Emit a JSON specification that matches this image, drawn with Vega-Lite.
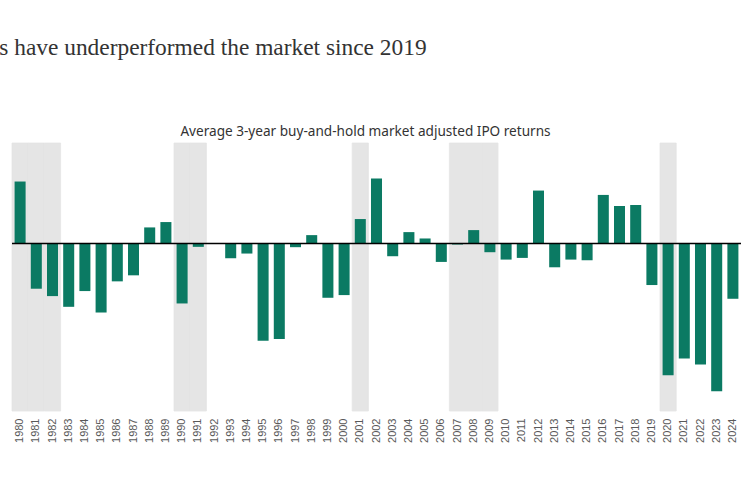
{
  "$schema": "https://vega.github.io/schema/vega-lite/v6.json",
  "width": 729,
  "height": 268,
  "autosize": {"type": "none"},
  "padding": {"left": 12, "top": 143, "right": 9, "bottom": 89},
  "background": "white",
  "title": {
    "text": "s have underperformed the market since 2019",
    "anchor": "start",
    "frame": "bounds",
    "dx": -12,
    "offset": 46,
    "baseline": "alphabetic",
    "font": "Liberation Serif",
    "fontSize": 23.4,
    "fontWeight": "normal",
    "color": "#333333"
  },
  "config": {"view": {"stroke": null}},
  "datasets": {
    "returns": [
      {"year": 1980, "value": 18.5},
      {"year": 1981, "value": -13.5},
      {"year": 1982, "value": -15.7},
      {"year": 1983, "value": -18.9},
      {"year": 1984, "value": -14.2},
      {"year": 1985, "value": -20.6},
      {"year": 1986, "value": -11.3},
      {"year": 1987, "value": -9.5},
      {"year": 1988, "value": 4.8},
      {"year": 1989, "value": 6.4},
      {"year": 1990, "value": -17.9},
      {"year": 1991, "value": -1.0},
      {"year": 1992, "value": 0},
      {"year": 1993, "value": -4.4},
      {"year": 1994, "value": -3.0},
      {"year": 1995, "value": -29.0},
      {"year": 1996, "value": -28.5},
      {"year": 1997, "value": -1.1},
      {"year": 1998, "value": 2.5},
      {"year": 1999, "value": -16.2},
      {"year": 2000, "value": -15.4},
      {"year": 2001, "value": 7.3},
      {"year": 2002, "value": 19.4},
      {"year": 2003, "value": -3.8},
      {"year": 2004, "value": 3.4},
      {"year": 2005, "value": 1.5},
      {"year": 2006, "value": -5.5},
      {"year": 2007, "value": -0.3},
      {"year": 2008, "value": 4.0},
      {"year": 2009, "value": -2.6},
      {"year": 2010, "value": -4.8},
      {"year": 2011, "value": -4.3},
      {"year": 2012, "value": 15.8},
      {"year": 2013, "value": -7.1},
      {"year": 2014, "value": -4.8},
      {"year": 2015, "value": -5.0},
      {"year": 2016, "value": 14.5},
      {"year": 2017, "value": 11.2},
      {"year": 2018, "value": 11.5},
      {"year": 2019, "value": -12.4},
      {"year": 2020, "value": -39.3},
      {"year": 2021, "value": -34.3},
      {"year": 2022, "value": -36.1},
      {"year": 2023, "value": -44.1},
      {"year": 2024, "value": -16.5}
    ],
    "recessions": [
      {"year": 1980}, {"year": 1981}, {"year": 1982},
      {"year": 1990}, {"year": 1991},
      {"year": 2001},
      {"year": 2007}, {"year": 2008}, {"year": 2009},
      {"year": 2020}
    ]
  },
  "layer": [
    {
      "data": {"name": "recessions"},
      "mark": {"type": "bar", "color": "#e5e5e5", "stroke": "#e5e5e5", "strokeWidth": 0.8},
      "encoding": {
        "x": {
          "field": "year",
          "type": "ordinal",
          "scale": {
            "domain": [1980,1981,1982,1983,1984,1985,1986,1987,1988,1989,1990,1991,1992,1993,1994,1995,1996,1997,1998,1999,2000,2001,2002,2003,2004,2005,2006,2007,2008,2009,2010,2011,2012,2013,2014,2015,2016,2017,2018,2019,2020,2021,2022,2023,2024],
            "paddingInner": 0,
            "paddingOuter": 0
          },
          "axis": {
            "orient": "bottom",
            "title": null,
            "labelAngle": -90,
            "labelPadding": 7,
            "ticks": false,
            "domain": false,
            "grid": false,
            "labelFont": "Liberation Sans",
            "labelFontSize": 11,
            "labelColor": "#595959"
          }
        },
        "y": {"datum": 30, "type": "quantitative", "scale": {"domain": [-50, 30], "nice": false, "zero": false}, "axis": null},
        "y2": {"datum": -50}
      }
    },
    {
      "data": {"name": "returns"},
      "mark": {"type": "bar", "color": "#0b7a63", "width": {"band": 0.68}},
      "encoding": {
        "x": {
          "field": "year",
          "type": "ordinal",
          "axis": {
            "orient": "top",
            "title": "Average 3-year buy-and-hold market adjusted IPO returns",
            "labels": false,
            "ticks": false,
            "domain": false,
            "grid": false,
            "titleFont": "Noto Sans",
            "titleFontSize": 13.6,
            "titleFontWeight": "normal",
            "titleColor": "#333333",
            "titlePadding": 5,
            "titleX": 353,
            "titleAlign": "center"
          }
        },
        "y": {"field": "value", "type": "quantitative", "axis": null}
      }
    },
    {
      "data": {"values": [{}]},
      "mark": {"type": "rule", "color": "#000000", "strokeWidth": 1.5},
      "encoding": {"y": {"datum": 0, "type": "quantitative"}}
    }
  ],
  "resolve": {"axis": {"x": "independent"}}
}
